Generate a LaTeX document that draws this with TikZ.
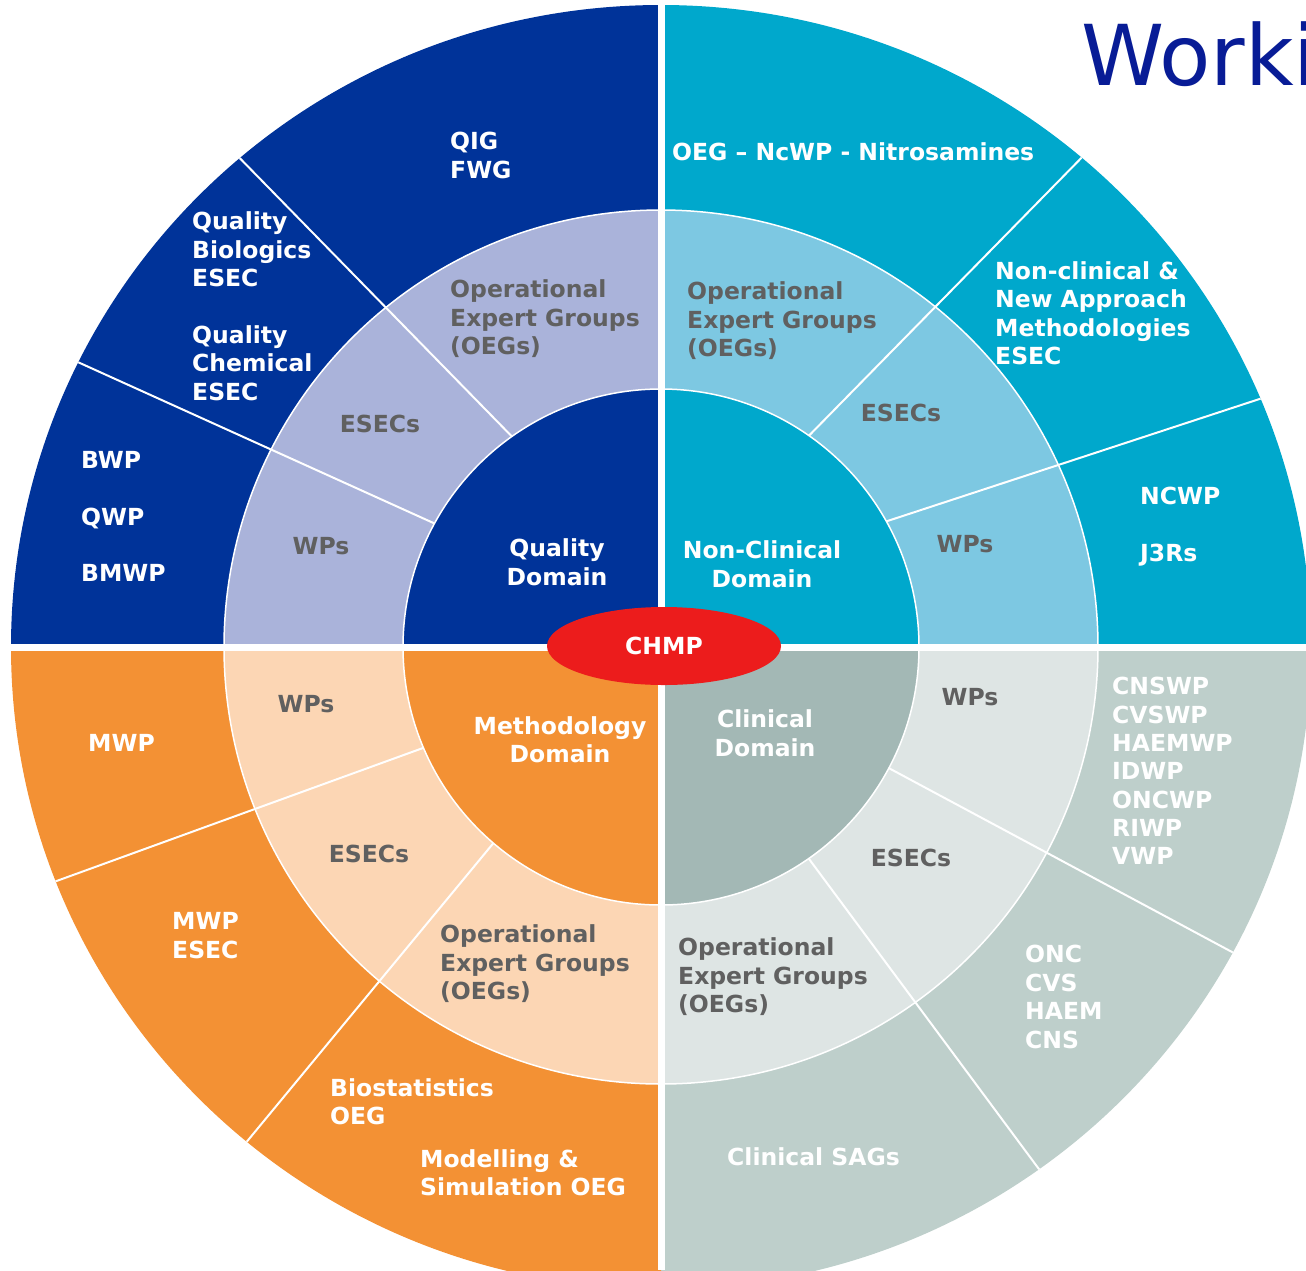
\documentclass[tikz,border=0pt]{standalone}
\usepackage{fontspec}
\setmainfont{DejaVu Sans}
\usetikzlibrary{shapes.geometric}
\definecolor{qdark}{RGB}{0,51,153}
\definecolor{qlight}{RGB}{170,179,218}
\definecolor{ndark}{RGB}{0,168,204}
\definecolor{nlight}{RGB}{125,200,226}
\definecolor{mdark}{RGB}{243,145,52}
\definecolor{mlight}{RGB}{252,214,180}
\definecolor{cdark}{RGB}{190,207,203}
\definecolor{clight}{RGB}{222,229,228}
\definecolor{cdom}{RGB}{163,184,181}
\definecolor{labgray}{RGB}{96,96,96}
\definecolor{chmpred}{RGB}{236,28,28}
\definecolor{titleblue}{RGB}{8,28,150}
\begin{document}
\begin{tikzpicture}[x=1pt,y=-1pt,
  sep/.style={white, line width=2pt},
  lab/.style={inner sep=0pt, font=\fontsize{23.5}{28.5}\selectfont\bfseries},
  wlab/.style={lab, text=white, align=left, anchor=west},
  glab/.style={lab, text=labgray, align=left, anchor=west},
  gc/.style={lab, text=labgray, align=center, anchor=center},
  wc/.style={lab, text=white, align=center, anchor=center}]
\useasboundingbox (0,0) rectangle (1306,1270);
\clip (0,0) rectangle (1306,1270);
\coordinate (C) at (661,647);
% outer ring sectors
\fill[qdark] (C) -- ++(180:650 and 642) arc[start angle=180,end angle=270,x radius=650,y radius=642] -- cycle;
\fill[ndark] (C) -- ++(270:650 and 642) arc[start angle=270,end angle=360,x radius=650,y radius=642] -- cycle;
\fill[cdark] (C) -- ++(0:650 and 642) arc[start angle=0,end angle=90,x radius=650,y radius=642] -- cycle;
\fill[mdark] (C) -- ++(90:650 and 642) arc[start angle=90,end angle=180,x radius=650,y radius=642] -- cycle;
% middle ring sectors
\fill[qlight] (C) -- ++(180:437) arc[start angle=180,end angle=270,radius=437] -- cycle;
\fill[nlight] (C) -- ++(270:437) arc[start angle=270,end angle=360,radius=437] -- cycle;
\fill[clight] (C) -- ++(0:437) arc[start angle=0,end angle=90,radius=437] -- cycle;
\fill[mlight] (C) -- ++(90:437) arc[start angle=90,end angle=180,radius=437] -- cycle;
% separators
\begin{scope}
\clip (C) ellipse[x radius=650, y radius=642];
\draw[sep] (225,143) -- (530,455);
\draw[sep] (60,354) -- (460,535);
\draw[sep] (1095,144) -- (790,455);
\draw[sep] (1290,389) -- (860,530);
\draw[sep] (40,887) -- (445,740);
\draw[sep] (230,1162) -- (510,823);
\draw[sep] (870,758) -- (1260,967);
\draw[sep] (795,840) -- (1050,1184);
\end{scope}
% domain sectors
\fill[qdark] (C) -- ++(180:258) arc[start angle=180,end angle=270,radius=258] -- cycle;
\fill[ndark] (C) -- ++(270:258) arc[start angle=270,end angle=360,radius=258] -- cycle;
\fill[cdom] (C) -- ++(0:258) arc[start angle=0,end angle=90,radius=258] -- cycle;
\fill[mdark] (C) -- ++(90:258) arc[start angle=90,end angle=180,radius=258] -- cycle;
% ring boundaries
\draw[white, line width=1.5pt] (C) circle[radius=258];
\draw[white, line width=1.5pt] (C) circle[radius=437];
% quadrant gaps
\fill[white] (657.5,0) rectangle (664.5,1270);
\fill[white] (0,643.5) rectangle (1306,650.5);
% CHMP
\node[ellipse, fill=chmpred, minimum width=234pt, minimum height=78pt, inner sep=0pt,
  text=white, font=\fontsize{23.5}{28.5}\selectfont\bfseries] (chmp) at (664,646) {CHMP};
% title
\node[anchor=base west, inner sep=0pt, font=\fontsize{84}{90}\selectfont, text=titleblue] (title) at (1081,85) {Worki};
% Quality
\node[wlab] (qig) at (450,155.5) {QIG\\FWG};
\node[wlab] (qbio) at (192,249.5) {Quality\\Biologics\\ESEC};
\node[wlab] (qchem) at (192,363) {Quality\\Chemical\\ESEC};
\node[wlab, font=\fontsize{23.5}{56.5}\selectfont\bfseries] (qwps) at (81,516.5) {BWP\\QWP\\BMWP};
\node[gc] (qwp) at (321,546) {WPs};
\node[gc] (qesec) at (380,424) {ESECs};
\node[glab] (qoeg) at (450,319) {Operational\\Expert Groups\\(OEGs)};
\node[wc] (qdom) at (557,562) {Quality\\Domain};
% Non-clinical
\node[wlab] (noeg1) at (672,152) {OEG – NcWP - Nitrosamines};
\node[glab] (noeg) at (687,321) {Operational\\Expert Groups\\(OEGs)};
\node[gc] (nesec) at (901,413) {ESECs};
\node[wlab] (nnam) at (995,313) {Non-clinical \&\\New Approach\\Methodologies\\ESEC};
\node[gc] (nwp) at (965,544) {WPs};
\node[wlab, font=\fontsize{23.5}{57}\selectfont\bfseries] (nwps) at (1140,526.5) {NCWP\\J3Rs};
\node[wc] (ndom) at (762,564) {Non-Clinical\\Domain};
% Methodology
\node[gc] (mwp) at (306,704) {WPs};
\node[wlab] (mwpl) at (88,743) {MWP};
\node[gc] (mesec) at (369,854) {ESECs};
\node[wlab] (mwpesec) at (172,935.5) {MWP\\ESEC};
\node[glab] (moeg) at (440,964) {Operational\\Expert Groups\\(OEGs)};
\node[wlab] (mbio) at (330,1101.5) {Biostatistics\\OEG};
\node[wlab] (mmod) at (420,1172.5) {Modelling \&\\Simulation OEG};
\node[wc] (mdom) at (560,739.5) {Methodology\\Domain};
% Clinical
\node[wc] (cdomain) at (765,733) {Clinical\\Domain};
\node[gc] (cwp) at (970,697) {WPs};
\node[gc] (cesec) at (911,858) {ESECs};
\node[glab] (coeg) at (678,977) {Operational\\Expert Groups\\(OEGs)};
\node[wlab, font=\fontsize{23.5}{28.33}\selectfont\bfseries] (cwps) at (1112,771) {CNSWP\\CVSWP\\HAEMWP\\IDWP\\ONCWP\\RIWP\\VWP};
\node[wlab, font=\fontsize{23.5}{28.7}\selectfont\bfseries] (cesecs) at (1025,997) {ONC\\CVS\\HAEM\\CNS};
\node[wlab] (csag) at (727,1157) {Clinical SAGs};
\end{tikzpicture}
\end{document}
